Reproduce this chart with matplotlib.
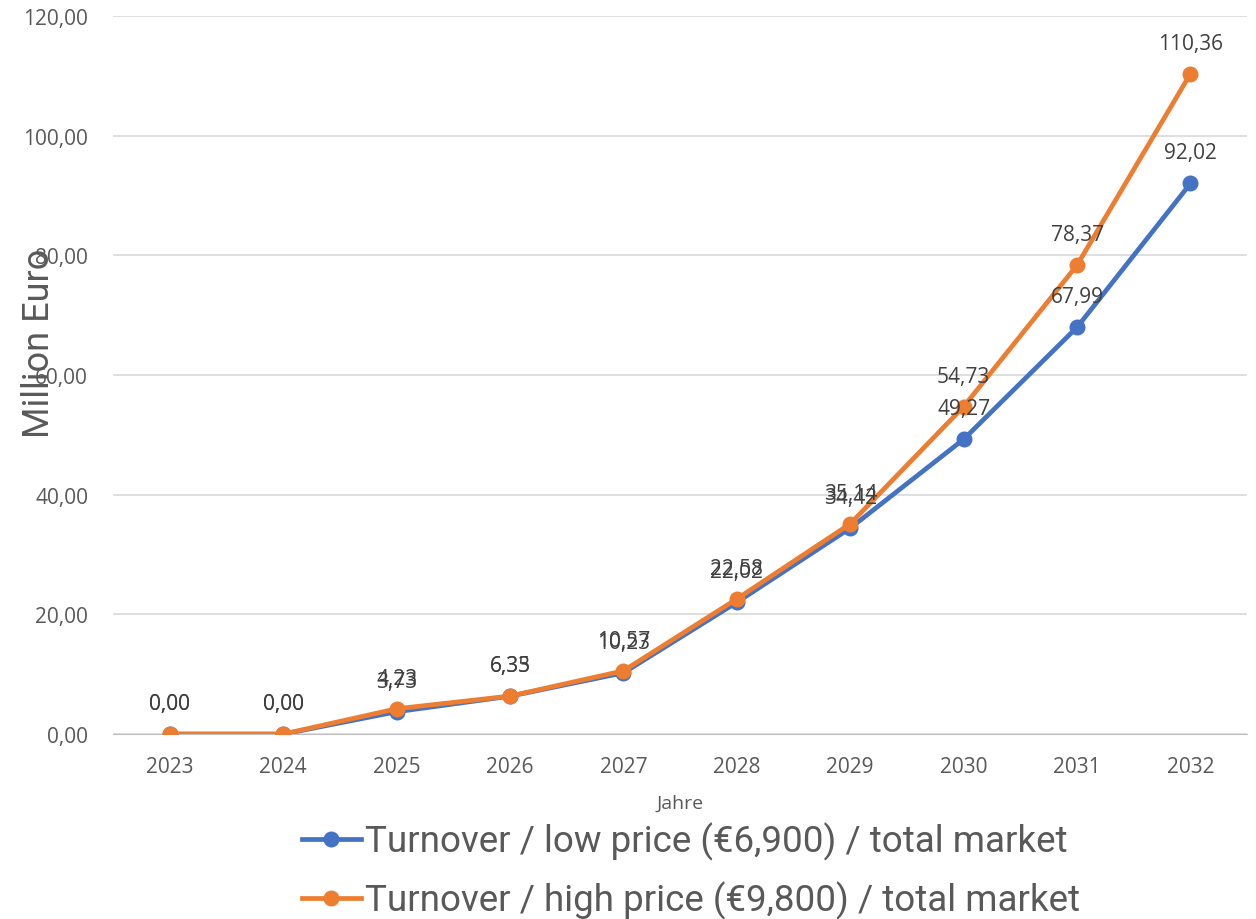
import numpy as np
import matplotlib.pyplot as plt

years = ['2023', '2024', '2025', '2026', '2027', '2028', '2029', '2030', '2031', '2032']
low_price = [0.00, 0.00, 3.73, 6.33, 10.23, 22.02, 34.42, 49.27, 67.99, 92.02]
high_price = [0.00, 0.00, 4.23, 6.35, 10.57, 22.58, 35.14, 54.73, 78.37, 110.36]
yticks = [0, 20, 40, 60, 80, 100, 120]

blue = '#4472C4'
orange = '#ED7D31'
txt = '#595959'

fig = plt.figure(figsize=(12.56, 9.2), dpi=100)
ax = fig.add_axes([0.09, 0.201, 0.903, 0.7805])

x = np.arange(len(years))
ax.plot(x, low_price, color=blue, lw=3.4, marker='o', ms=10.5, zorder=3,
        label='Turnover / low price (€6,900) / total market')
ax.plot(x, high_price, color=orange, lw=3.4, marker='o', ms=10.5, zorder=3,
        label='Turnover / high price (€9,800) / total market')

for series in (low_price, high_price):
    for xi, v in zip(x, series):
        ax.annotate(f'{v:.2f}'.replace('.', ','), (xi, v), xytext=(0, 22),
                    textcoords='offset points', ha='center', va='center',
                    fontsize=15, color='#404040', family='Open Sans', zorder=5)

ax.set_xlim(-0.5, len(years) - 0.5)
ax.set_ylim(0, 120)
ax.set_xticks(x)
ax.set_xticklabels(years, family='Open Sans', fontsize=15, color=txt)
ax.set_yticks(yticks)
ax.set_yticklabels([f'{t:.2f}'.replace('.', ',') for t in yticks],
                   family='Open Sans', fontsize=15, color=txt)
ax.tick_params(axis='x', length=0, pad=16)
ax.tick_params(axis='y', length=0, pad=18)
ax.grid(axis='y', color='#D9D9D9', lw=1.2)
ax.set_axisbelow(True)
for s in ['top', 'right', 'left']:
    ax.spines[s].set_visible(False)
ax.spines['bottom'].set_color('#BFBFBF')
ax.spines['bottom'].set_zorder(1)

ax.set_xlabel('Jahre', family='Open Sans', fontsize=14, color=txt, labelpad=12)
fig.text(0.031, 0.627, 'Million Euro', rotation=90, ha='center', va='center',
         family='Roboto', fontsize=26, color=txt)

fig.legend(loc='lower center', bbox_to_anchor=(0.55, -0.036), frameon=False,
           prop={'family': 'Roboto', 'size': 26.5}, labelcolor=txt,
           handlelength=1.6, handletextpad=0.1, labelspacing=0.55)

fig.savefig('out.png', dpi=100)
